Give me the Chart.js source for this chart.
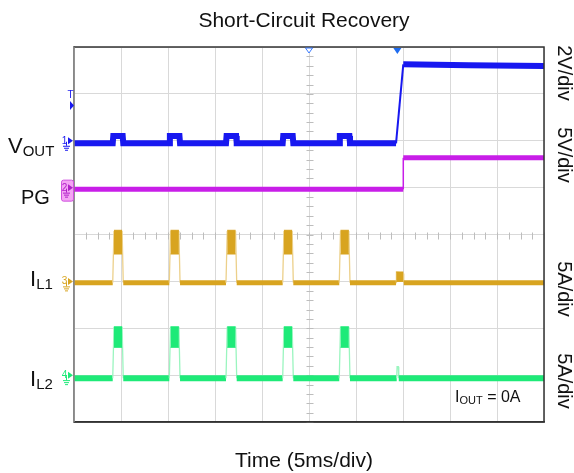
<!DOCTYPE html>
<html><head><meta charset="utf-8">
<script src="https://cdn.jsdelivr.net/npm/chart.js@4.4.1/dist/chart.umd.min.js"></script>
<style>
html,body{margin:0;padding:0;background:#fff;}
#wrap{position:relative;width:574px;height:473px;font-family:"Liberation Sans",Arial,sans-serif;color:#111;overflow:hidden;}
#c{position:absolute;left:0;top:0;}
.lbl{position:absolute;white-space:nowrap;line-height:1;}
.rot{position:absolute;width:80px;height:20px;text-align:center;transform:rotate(90deg);transform-origin:center center;white-space:nowrap;line-height:20px;font-size:20px;}
.sub{position:relative;}
</style></head>
<body><div id="wrap">
<canvas id="c" width="574" height="473"></canvas>
<div class="lbl" style="left:0;width:608px;text-align:center;top:9px;font-size:21px">Short-Circuit Recovery</div>
<div class="lbl" style="left:0;width:608px;text-align:center;top:449px;font-size:21px">Time (5ms/div)</div>
<div class="lbl" style="left:8px;top:135px;font-size:22px">V<span class="sub" style="font-size:15px;top:3px">OUT</span></div>
<div class="lbl" style="left:21px;top:187px;font-size:20px">PG</div>
<div class="lbl" style="left:30px;top:268px;font-size:22px">I<span class="sub" style="font-size:15px;top:3px">L1</span></div>
<div class="lbl" style="left:30px;top:368px;font-size:22px">I<span class="sub" style="font-size:15px;top:3px">L2</span></div>
<div class="lbl" style="left:455px;top:389px;font-size:16px">I<span class="sub" style="font-size:11px;top:2px">OUT</span> = 0A</div>
<div class="rot" style="left:525px;top:63px">2V/div</div>
<div class="rot" style="left:525px;top:145px">5V/div</div>
<div class="rot" style="left:525px;top:279px">5A/div</div>
<div class="rot" style="left:525px;top:371px">5A/div</div>
</div>
<script>
// ---- axes (time in ms, 5 ms/div, 10 div; 8 vertical divisions) ----
const timeTicks = [0, 5, 10, 15, 20, 25, 30, 35, 40, 45, 50];
const divTicks = [0, 1, 2, 3, 4, 5, 6, 7, 8];

// ---- CH1: VOUT (2 V/div, ground marker at div 6) ----
const voutTime = [0, 4.12, 4.18, 5.18, 5.24, 10.14, 10.2, 11.22, 11.28, 16.17, 16.23, 17.25, 17.31, 22.2, 22.26, 23.27, 23.33, 28.22, 28.28, 29.3, 29.36, 34.26, 35.03, 42.0, 50];
const voutVolts = [-0.11, -0.11, 0.2, 0.2, -0.11, -0.11, 0.2, 0.2, -0.11, -0.11, 0.2, 0.2, -0.11, -0.11, 0.2, 0.2, -0.11, -0.11, 0.2, 0.2, -0.11, -0.11, 3.26, 3.22, 3.19];

// ---- CH2: PG (5 V/div, ground marker at div 5) ----
const pgTime = [0, 35.03, 35.03, 50];
const pgVolts = [-0.18, -0.18, 3.18, 3.18];

// ---- CH3: IL1 (5 A/div, ground marker at div 3) ----
const il1Time = [0, 4.12, 4.25, 5.12, 5.24, 10.14, 10.27, 11.16, 11.28, 16.17, 16.3, 17.19, 17.31, 22.2, 22.33, 23.21, 23.33, 28.22, 28.35, 29.24, 29.36, 34.26, 34.3, 35.02, 35.08, 50];
const il1Amps = [-0.14, -0.14, 5.3, 5.3, -0.14, -0.14, 5.3, 5.3, -0.14, -0.14, 5.3, 5.3, -0.14, -0.14, 5.3, 5.3, -0.14, -0.14, 5.3, 5.3, -0.14, -0.14, 1.0, 0.85, -0.14, -0.14];
const il1BandStart = [4.25, 10.27, 16.3, 22.33, 28.35, 34.28];
const il1BandEnd = [5.12, 11.16, 17.19, 23.21, 29.24, 35.04];
const il1BandHigh = [5.45, 5.45, 5.45, 5.45, 5.45, 1.0];
const il1BandLow = [2.92, 2.92, 2.92, 2.92, 2.92, 0.0];

// ---- CH4: IL2 (5 A/div, ground marker at div 1) ----
const il2Time = [0, 4.12, 4.25, 5.12, 5.24, 10.14, 10.27, 11.16, 11.28, 16.17, 16.3, 17.19, 17.31, 22.2, 22.33, 23.21, 23.33, 28.22, 28.35, 29.24, 29.36, 34.33, 34.37, 34.5, 34.55, 50];
const il2Amps = [-0.34, -0.34, 5.1, 5.1, -0.34, -0.34, 5.1, 5.1, -0.34, -0.34, 5.1, 5.1, -0.34, -0.34, 5.1, 5.1, -0.34, -0.34, 5.1, 5.1, -0.34, -0.34, 0.9, 0.9, -0.34, -0.34];
const il2BandStart = [4.25, 10.27, 16.3, 22.33, 28.35];
const il2BandEnd = [5.12, 11.16, 17.19, 23.21, 29.24];
const il2BandHigh = [5.15, 5.15, 5.15, 5.15, 5.15];
const il2BandLow = [2.97, 2.97, 2.97, 2.97, 2.97];

// channel settings: [ground offset in div, units per div]
const CH = {
  vout: {off: 6, per: 2, color: '#1818f0', light: '#1818f0'},
  pg:   {off: 5, per: 5, color: '#c81ee8', light: '#c81ee8'},
  il1:  {off: 3, per: 5, color: '#d8a420', light: '#ecd08a'},
  il2:  {off: 1, per: 5, color: '#1eea78', light: '#9af5bf'}
};

function toPts(t, v, ch) {
  return t.map((x, i) => ({x: x, y: ch.off + v[i] / ch.per}));
}
function bandPts(starts, ends, vals, ch) {
  const out = [];
  starts.forEach((s, i) => {
    out.push({x: s, y: ch.off + vals[i] / ch.per});
    out.push({x: ends[i], y: ch.off + vals[i] / ch.per});
    out.push({x: ends[i] + 0.001, y: null});
  });
  return out;
}
function flatBase(baseVal, ch, wide, thin) {
  const b = ch.off + baseVal / ch.per;
  const isBase = c => Math.abs(c.p0.parsed.y - b) < 1e-6 && Math.abs(c.p1.parsed.y - b) < 1e-6;
  return {
    borderWidth: c => isBase(c) ? wide : thin,
    borderColor: c => isBase(c) ? ch.color : ch.light
  };
}

const datasets = [
  // bands (fill between high and low)
  {data: bandPts(il1BandStart, il1BandEnd, il1BandHigh, CH.il1), borderColor: CH.il1.color, borderWidth: 1, fill: false, spanGaps: false},
  {data: bandPts(il1BandStart, il1BandEnd, il1BandLow, CH.il1), borderColor: CH.il1.color, borderWidth: 1, fill: '-1', backgroundColor: CH.il1.color, spanGaps: false},
  {data: bandPts(il2BandStart, il2BandEnd, il2BandHigh, CH.il2), borderColor: CH.il2.color, borderWidth: 1, fill: false, spanGaps: false},
  {data: bandPts(il2BandStart, il2BandEnd, il2BandLow, CH.il2), borderColor: CH.il2.color, borderWidth: 1, fill: '-1', backgroundColor: CH.il2.color, spanGaps: false},
  // traces
  {data: toPts(il1Time, il1Amps, CH.il1), borderColor: CH.il1.color, borderWidth: 5, fill: false, segment: flatBase(-0.14, CH.il1, 5, 1.3)},
  {data: toPts(il2Time, il2Amps, CH.il2), borderColor: CH.il2.color, borderWidth: 6, fill: false, segment: flatBase(-0.34, CH.il2, 6, 1.3)},
  {data: toPts(pgTime, pgVolts, CH.pg), borderColor: CH.pg.color, borderWidth: 5, fill: false,
    segment: {borderWidth: c => Math.abs(c.p1.parsed.y - c.p0.parsed.y) > 0.3 ? 1.5 : 5}},
  {data: toPts(voutTime, voutVolts, CH.vout), borderColor: CH.vout.color, borderWidth: 6, fill: false,
    segment: {borderWidth: c => Math.abs(c.p1.parsed.y - c.p0.parsed.y) > 0.5 ? 2 : 6}}
];

function tri(ctx, pts, fill, stroke) {
  ctx.beginPath();
  ctx.moveTo(pts[0][0], pts[0][1]);
  ctx.lineTo(pts[1][0], pts[1][1]);
  ctx.lineTo(pts[2][0], pts[2][1]);
  ctx.closePath();
  if (fill) { ctx.fillStyle = fill; ctx.fill(); }
  if (stroke) { ctx.strokeStyle = stroke; ctx.lineWidth = 1; ctx.stroke(); }
}
function ground(ctx, x, y, color) {
  ctx.strokeStyle = color; ctx.lineWidth = 1;
  ctx.beginPath();
  ctx.moveTo(x + 0.5, y); ctx.lineTo(x + 0.5, y + 4);
  ctx.moveTo(x - 3, y + 4.5); ctx.lineTo(x + 4, y + 4.5);
  ctx.moveTo(x - 2, y + 6.5); ctx.lineTo(x + 3, y + 6.5);
  ctx.moveTo(x - 1, y + 8.5); ctx.lineTo(x + 2, y + 8.5);
  ctx.stroke();
}

const decor = {
  id: 'decor',
  beforeDatasetsDraw(chart) {
    const {ctx, chartArea: a, scales: {x, y}} = chart;
    ctx.save();
    ctx.strokeStyle = '#bdbdbd'; ctx.lineWidth = 1;
    const cx = Math.round(x.getPixelForValue(25)) + 0.5;
    const cy = Math.round(y.getPixelForValue(4)) + 0.5;
    ctx.beginPath();
    for (let d = 0; d <= 40; d++) {
      const py = Math.round(y.getPixelForValue(d / 5)) + 0.5;
      ctx.moveTo(cx - 3, py); ctx.lineTo(cx + 4, py);
    }
    for (let d = 0; d <= 40; d++) {
      const px = Math.round(x.getPixelForValue(d * 1.25)) + 0.5;
      ctx.moveTo(px, cy - 3); ctx.lineTo(px, cy + 4);
    }
    ctx.stroke();
    ctx.restore();
  },
  afterDraw(chart) {
    const {ctx, chartArea: a, scales: {x, y}} = chart;
    ctx.save();
    // frame
    ctx.strokeStyle = '#333'; ctx.lineWidth = 1.5;
    ctx.beginPath();
    ctx.moveTo(a.left, a.top); ctx.lineTo(a.right, a.top); ctx.lineTo(a.right, a.bottom); ctx.lineTo(a.left, a.bottom);
    ctx.stroke();
    ctx.strokeStyle = '#888'; ctx.lineWidth = 1.5;
    ctx.beginPath(); ctx.moveTo(a.left, a.top); ctx.lineTo(a.left, a.bottom); ctx.stroke();
    // top markers
    const mx = x.getPixelForValue(25);
    tri(ctx, [[mx - 3.5, a.top + 1], [mx + 3.5, a.top + 1], [mx, a.top + 6]], '#fff', '#3a7bff');
    const tx = x.getPixelForValue(34.4);
    tri(ctx, [[tx - 4, a.top + 1], [tx + 4, a.top + 1], [tx, a.top + 7]], '#1e6cf0', null);
    // trigger marker
    ctx.fillStyle = '#1818f0';
    ctx.font = '10px "Liberation Sans", Arial, sans-serif';
    ctx.textAlign = 'center'; ctx.textBaseline = 'alphabetic';
    ctx.fillText('T', 70.5, 98);
    tri(ctx, [[70, 101], [74, 105.5], [70, 110]], '#1818f0', null);
    // channel markers
    const marks = [
      {n: '1', ch: CH.vout, col: '#1818f0'},
      {n: '3', ch: CH.il1, col: '#d8a420'},
      {n: '4', ch: CH.il2, col: '#1eea78'}
    ];
    marks.forEach(m => {
      const py = y.getPixelForValue(m.ch.off);
      ctx.fillStyle = m.col;
      ctx.font = '10px "Liberation Sans", Arial, sans-serif';
      ctx.fillText(m.n, 64.5, py + 3);
      tri(ctx, [[68, py - 3.5], [73, py], [68, py + 3.5]], m.col, null);
      ground(ctx, 66, py + 1, m.col);
    });
    // CH2 boxed marker
    const p2 = y.getPixelForValue(CH.pg.off);
    ctx.fillStyle = '#f4a4f4'; ctx.strokeStyle = '#d050e0'; ctx.lineWidth = 1;
    ctx.beginPath();
    ctx.roundRect(61.5, p2 - 7.5, 12, 21, 2);
    ctx.fill(); ctx.stroke();
    ctx.fillStyle = '#b020c8';
    ctx.fillText('2', 64.5, p2 + 3);
    tri(ctx, [[68, p2 - 3.5], [73, p2], [68, p2 + 3.5]], '#b020c8', null);
    ground(ctx, 66, p2 + 1, '#b020c8');
    ctx.restore();
  }
};

new Chart(document.getElementById('c'), {
  type: 'line',
  data: {datasets: datasets},
  options: {
    responsive: false,
    animation: false,
    events: [],
    layout: {padding: {left: 74, top: 47, right: 30, bottom: 51}},
    elements: {point: {radius: 0}, line: {tension: 0, borderCapStyle: 'butt', borderJoinStyle: 'miter'}},
    plugins: {legend: {display: false}, tooltip: {enabled: false}, title: {display: false}},
    scales: {
      x: {
        type: 'linear', min: timeTicks[0], max: timeTicks[timeTicks.length - 1],
        afterBuildTicks: s => { s.ticks = timeTicks.map(v => ({value: v})); },
        ticks: {display: false},
        grid: {color: '#d9d9d9', drawTicks: false, lineWidth: 1},
        border: {display: true, color: '#333', width: 1.5}
      },
      y: {
        type: 'linear', min: divTicks[0], max: divTicks[divTicks.length - 1],
        afterBuildTicks: s => { s.ticks = divTicks.map(v => ({value: v})); },
        ticks: {display: false},
        grid: {color: '#d9d9d9', drawTicks: false, lineWidth: 1},
        border: {display: true, color: '#888', width: 1.5}
      }
    }
  },
  plugins: [decor]
});
</script>
</body></html>
